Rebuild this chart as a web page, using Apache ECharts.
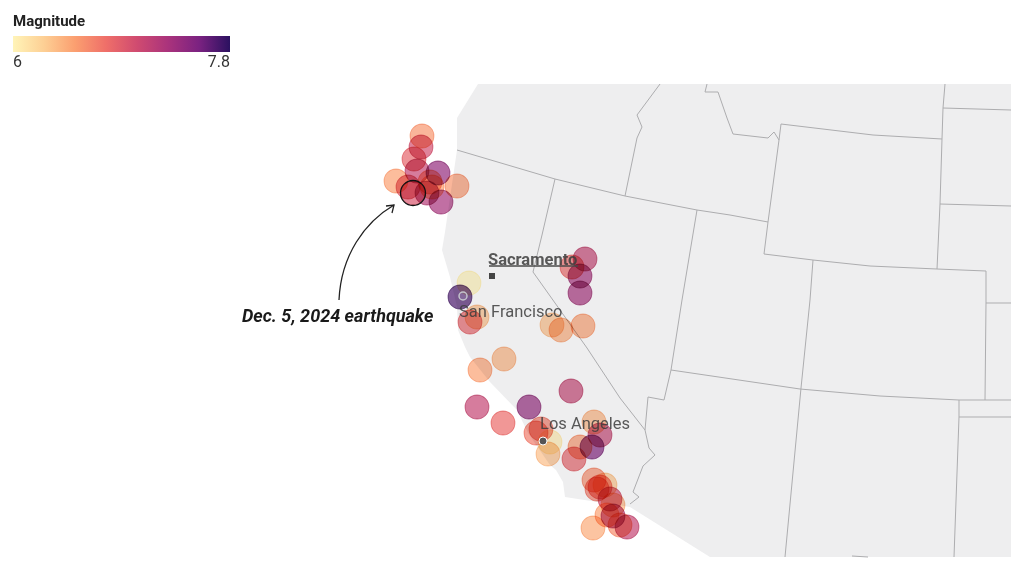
<!DOCTYPE html>
<html>
<head>
    <meta charset="utf-8">
    <title>Magnitude</title>
    <script src="https://cdn.jsdelivr.net/npm/echarts@6/dist/echarts.min.js"></script>
    <style type="text/css">
        *{margin: 0;padding: 0;}
        body{background: #fff;overflow: hidden;}
    </style>
</head>
<body>
<div id="main" style="width: 1024px;height: 576px;"></div>
<script type="text/javascript">
    // earthquakes
    var quakeX = [422,421,414,396,457,408,430,432,417,438,427,441,413,
                  585,572,580,580,469,460,477,470,552,561,583,
                  504,480,571,477,529,503,536,541,550,548,594,600,580,592,574,
                  594,605,597,600,610,613,607,620,613,593,627];
    var quakeY = [136,147,159,181,186,187,182,187,171,173,193,202,193,
                  259,267,276,293,283,297,317,322,325,330,326,
                  359,370,391,407,407,423,433,429,442,454,422,435,447,447,459,
                  480,485,489,487,499,505,515,525,516,528,527];
    var quakeMag = [6.55,7.0,6.85,6.5,6.55,6.9,6.6,6.5,7.1,7.4,7.2,7.3,6.95,
                    7.1,6.8,7.3,7.3,6.0,7.7,6.35,6.85,6.35,6.45,6.5,
                    6.4,6.5,7.1,7.1,7.4,6.8,6.7,6.7,6.05,6.35,6.4,7.1,6.55,7.5,6.85,
                    6.6,6.3,6.7,6.75,7.0,6.4,6.5,6.6,7.2,6.45,7.1];
    var magnitudeColors = ['#fff4b8','#fdcf94','#fb9f70','#ef6f69','#d04b70','#aa337c','#7b2281','#2b1160'];
    var magnitudeMin = 6;
    var magnitudeMax = 7.8;
    var magnitudeTicks = ['6','7.8'];

    // map shapes
    var land = [[478,84],[1011,84],[1011,557],[710,557],[630,507],[565,497],[563,482],[556,470],[550,465],
                [528,433],[517,410],[490,382],[470,357],[465,347],[458,330],[457,307],[450,277],[442,250],
                [445,232],[457,150],[457,118]];
    var borders = [
        [[457,150],[555,179],[625,196],[697,210],[730,215],[768,222]],
        [[555,179],[542,235],[533,272],[587,348],[620,398],[645,430]],
        [[660,84],[637,115],[642,127],[637,138],[625,196]],
        [[707,84],[705,92],[718,92],[727,118],[733,134],[768,138],[774,132],[779,140]],
        [[781,124],[873,135],[942,139]],
        [[781,124],[779,140],[768,222],[764,254],[813,260],[870,266],[937,269],[986,271],[986,303],[985,400]],
        [[945,84],[943,108],[942,139],[940,204],[937,269]],
        [[943,108],[1011,110]],
        [[940,204],[1011,206]],
        [[986,303],[1011,303]],
        [[697,210],[682,300],[671,370],[664,400],[648,397],[645,430],[649,448],[655,455],[643,466],[633,492],[639,497],[630,504]],
        [[813,260],[810,300],[801,388],[785,557]],
        [[671,370],[800,389],[880,396],[959,400],[985,400],[1011,400]],
        [[959,400],[959,417],[954,557]],
        [[959,417],[1011,417]],
        [[852,556],[868,557]]
    ];

    var highlightQuake = [[413,193]];
    var arrowCurve = [[339,300],[341,255],[365,222],[394,205]];
    var arrowHead = [[386,206],[394,205],[392,213]];
    var sacramentoUnderline = [[489,266],[578,266]];
    var sacramentoPoint = [[492,276]];
    var sanFranciscoPoint = [[463,296]];
    var losAngelesPoint = [[543,441]];
    var cityNames = ['Sacramento','San Francisco','Los Angeles'];
    var cityLabelAt = [[488,261],[459,313],[540,425]];
    var cityWeights = [700,400,400];
    var annotationText = 'Dec. 5, 2024 earthquake';
    var annotationAt = [242,317];

    var quakeData = [];
    for(var i = 0;i < quakeX.length;i++){
        // ring is the same colour as the fill
        var t = (quakeMag[i] - magnitudeMin) / (magnitudeMax - magnitudeMin);
        quakeData.push({
            value:[quakeX[i], quakeY[i], quakeMag[i]],
            itemStyle:{borderColor:echarts.color.lerp(t, magnitudeColors)}
        });
    }

    var seriesList = [];

    seriesList.push({
        type:'custom',
        silent:true,
        z:1,
        data:[0],
        renderItem:function(params, api){
            var pts = [];
            for(var i = 0;i < land.length;i++){
                pts.push(api.coord(land[i]));
            }
            return {type:'polygon', shape:{points:pts}, style:{fill:'#eeeeef', stroke:null}};
        }
    });

    for(var b = 0;b < borders.length;b++){
        seriesList.push({
            type:'line',
            silent:true,
            z:2,
            symbol:'none',
            lineStyle:{color:'#adadaf', width:1},
            data:borders[b]
        });
    }

    var quakeIndex = seriesList.length;
    seriesList.push({
        type:'scatter',
        z:3,
        symbolSize:24,
        blendMode:'multiply',
        itemStyle:{opacity:0.7, borderWidth:0.8},
        data:quakeData
    });

    seriesList.push({
        type:'scatter',
        z:4,
        symbolSize:25,
        itemStyle:{color:'rgba(0,0,0,0)', borderColor:'#111', borderWidth:1.3, opacity:1},
        data:highlightQuake
    });

    seriesList.push({
        type:'custom',
        silent:true,
        z:4,
        data:[0],
        renderItem:function(params, api){
            var c = arrowCurve.map(function(p){ return api.coord(p); });
            var h = arrowHead.map(function(p){ return api.coord(p); });
            var lineStyle = {fill:null, stroke:'#222', lineWidth:1.3};
            return {type:'group', children:[
                {type:'bezierCurve', shape:{x1:c[0][0], y1:c[0][1], cpx1:c[1][0], cpy1:c[1][1], cpx2:c[2][0], cpy2:c[2][1], x2:c[3][0], y2:c[3][1]}, style:lineStyle},
                {type:'polyline', shape:{points:h}, style:lineStyle}
            ]};
        }
    });

    seriesList.push({
        type:'line', z:5, symbol:'none',
        lineStyle:{color:'#4a4a4a', width:1.5},
        data:sacramentoUnderline
    });
    seriesList.push({
        type:'scatter', z:5, symbol:'rect', symbolSize:6,
        itemStyle:{color:'#444', opacity:1},
        data:sacramentoPoint
    });
    seriesList.push({
        type:'scatter', z:5, symbolSize:8,
        itemStyle:{color:'rgba(255,255,255,0.1)', borderColor:'#c4c4cc', borderWidth:1.5, opacity:1},
        data:sanFranciscoPoint
    });
    seriesList.push({
        type:'scatter', z:5, symbolSize:8,
        itemStyle:{color:'#555', borderColor:'#fff', borderWidth:1, opacity:1},
        data:losAngelesPoint
    });

    seriesList.push({
        type:'scatter', z:6, symbolSize:0,
        itemStyle:{opacity:1},
        data:cityNames.map(function(n, i){
            return {name:n, value:cityLabelAt[i], label:{fontWeight:cityWeights[i]}};
        }),
        label:{
            show:true,
            position:'right',
            distance:0,
            fontFamily:'Roboto',
            fontSize:16.5,
            color:'rgba(60,60,60,0.85)',
            formatter:'{b}'
        }
    });

    seriesList.push({
        type:'scatter', z:6, symbolSize:0,
        itemStyle:{opacity:1},
        data:[{name:annotationText, value:annotationAt}],
        label:{
            show:true,
            position:'right',
            distance:0,
            fontFamily:'Roboto',
            fontSize:18,
            fontWeight:700,
            fontStyle:'italic',
            color:'#1a1a1a',
            formatter:'{b}'
        }
    });

    var legendStops = magnitudeColors.map(function(c, i){
        return {offset:i / (magnitudeColors.length - 1), color:c};
    });

    var myChart = echarts.init(document.getElementById('main'));
    var option = {
        animation:false,
        backgroundColor:'#fff',
        grid:{left:0, right:0, top:0, bottom:0},
        xAxis:{type:'value', min:0, max:1024, show:false},
        yAxis:{type:'value', min:0, max:576, inverse:true, show:false},
        visualMap:{
            type:'continuous',
            show:false,
            seriesIndex:quakeIndex,
            dimension:2,
            min:magnitudeMin,
            max:magnitudeMax,
            inRange:{color:magnitudeColors}
        },
        graphic:[
            {type:'text', left:13, top:15, style:{text:'Magnitude', font:'700 15px Roboto', fill:'#222'}},
            {type:'rect', left:13, top:36, shape:{width:217, height:16}, style:{
                fill:new echarts.graphic.LinearGradient(0, 0, 1, 0, legendStops)
            }},
            {type:'text', left:13, top:55, style:{text:magnitudeTicks[0], font:'400 16px Roboto', fill:'#333'}},
            {type:'text', right:794, top:55, style:{text:magnitudeTicks[1], font:'400 16px Roboto', fill:'#333'}}
        ],
        series:seriesList
    };
    myChart.setOption(option);
</script>
</body>
</html>
